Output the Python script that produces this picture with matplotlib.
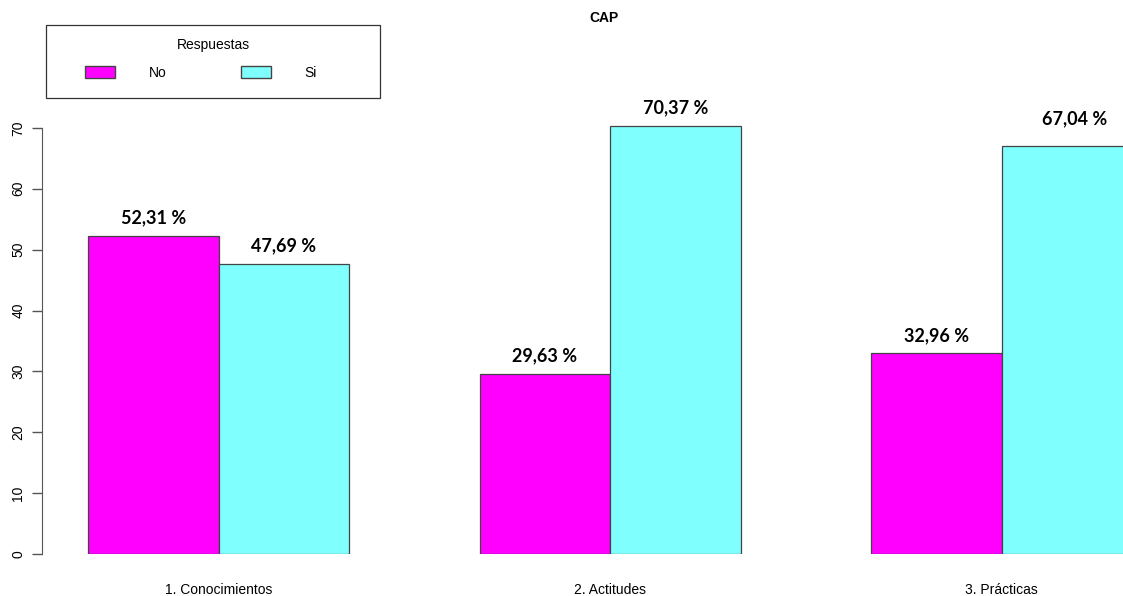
import matplotlib.pyplot as plt
from matplotlib.patches import Patch, Rectangle
import numpy as np

categorias = ["1. Conocimientos", "2. Actitudes", "3. Prácticas"]
respuestas = ["No", "Si"]
no_vals = [52.31, 29.63, 32.96]
si_vals = [47.69, 70.37, 67.04]
etiquetas_no = ["52,31 %", "29,63 %", "32,96 %"]
etiquetas_si = ["47,69 %", "70,37 %", "67,04 %"]

col_no = "#FF00FF"
col_si = "#80FFFF"
W, H = 1123, 596

fig = plt.figure(figsize=(W / 100, H / 100), dpi=100)
# axes placed in pixel coordinates (R-like layout)
ax = fig.add_axes([42 / W, 42 / H, (W - 42) / W, 487 / H])

# R barplot beside=TRUE, space=c(0,1): groups start at 1, 4, 7
x_no = np.array([1.5, 4.5, 7.5])
x_si = x_no + 1

ax.bar(x_no, no_vals, width=1, color=col_no, edgecolor="#444444", linewidth=0.9)
ax.bar(x_si, si_vals, width=1, color=col_si, edgecolor="#444444", linewidth=0.9)

for x, v, t in zip(x_no, no_vals, etiquetas_no):
    ax.text(x, v + 1.5, t, ha="center", va="bottom", family="Lato",
            fontweight="bold", fontsize=13)
# last label sits a bit higher / to the right in the original
dx_si = [0, 0, 0.06]
dy_si = [1.5, 1.5, 3.0]
for x, v, t, dx, dy in zip(x_si, si_vals, etiquetas_si, dx_si, dy_si):
    ax.text(x + dx, v + dy, t, ha="center", va="bottom", family="Lato",
            fontweight="bold", fontsize=13)

ax.set_xlim(0.6475, 8.931)
ax.set_ylim(0, 80)

for s in ["top", "right", "bottom"]:
    ax.spines[s].set_visible(False)
ax.spines["left"].set_bounds(0, 70)
ax.spines["left"].set_color("#555555")

ax.set_yticks(range(0, 71, 10))
ax.set_yticklabels([str(v) for v in range(0, 71, 10)], rotation=90,
                   va="center", family="Liberation Sans", fontsize=10)
ax.tick_params(axis="y", length=7, width=1, color="#555555", pad=5)

ax.set_xticks(x_no + 0.5)
ax.set_xticklabels(categorias, family="Liberation Sans", fontsize=10)
ax.tick_params(axis="x", length=0, pad=21)

fig.text(604 / W, 1 - 18 / H, "CAP", ha="center", va="center",
         family="Liberation Sans", fontweight="bold", fontsize=10)

# legend frame and title drawn separately so they match the R box
fig.patches.append(Rectangle((46 / W, 1 - 98 / H), 334 / W, 73 / H,
                             transform=fig.transFigure, fill=False,
                             edgecolor="#333333", linewidth=0.9))
fig.text(213 / W, 1 - 45 / H, "Respuestas", ha="center", va="center",
         family="Liberation Sans", fontsize=10)
handles = [Patch(facecolor=col_no, edgecolor="#444444"),
           Patch(facecolor=col_si, edgecolor="#444444")]
leg = ax.legend(handles, respuestas, ncol=2,
                loc="center",
                bbox_to_anchor=(201 / W, 1 - 73 / H),
                bbox_transform=fig.transFigure,
                frameon=False,
                prop={"family": "Liberation Sans", "size": 10},
                handlelength=2.15, handleheight=0.95, handletextpad=2.4,
                columnspacing=5.4, borderpad=0, borderaxespad=0)

fig.savefig("out.png", dpi=100)
